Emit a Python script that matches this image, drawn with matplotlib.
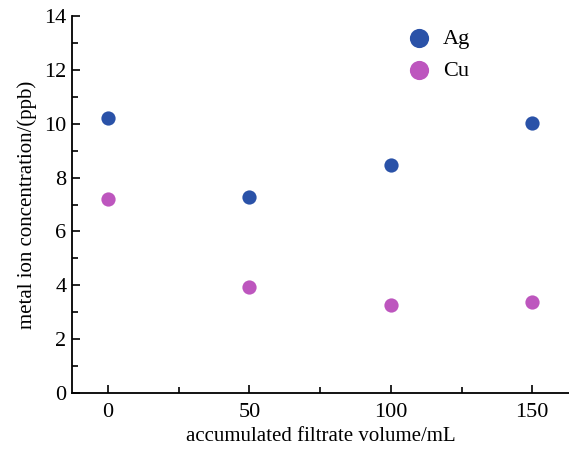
import matplotlib.pyplot as plt
from matplotlib.ticker import MultipleLocator

# accumulated filtrate volume (mL) and measured ion concentrations (ppb)
volume = [0, 50, 100, 150]
ag_conc = [10.21, 7.28, 8.46, 10.04]
cu_conc = [7.20, 3.94, 3.28, 3.38]

plt.rcParams['font.family'] = ['Liberation Serif', 'DejaVu Serif']

fig = plt.figure(figsize=(5.69, 4.51), dpi=100)
ax = fig.add_axes([0.1265, 0.1286, 0.8735, 0.8359])

ax.scatter(volume, ag_conc, s=105, color='#2a52a8', label='Ag', zorder=3, linewidths=0)
ax.scatter(volume, cu_conc, s=105, color='#bd56be', label='Cu', zorder=3, linewidths=0)

ax.set_xlim(-12.7, 163)
ax.set_ylim(0, 14)
ax.xaxis.set_major_locator(MultipleLocator(50))
ax.xaxis.set_minor_locator(MultipleLocator(25))
ax.yaxis.set_major_locator(MultipleLocator(2))
ax.yaxis.set_minor_locator(MultipleLocator(1))

for side in ('top', 'right'):
    ax.spines[side].set_visible(False)
for side in ('left', 'bottom'):
    ax.spines[side].set_linewidth(1.3)

ax.tick_params(which='major', direction='in', length=6, width=1.2, labelsize=16, pad=7)
ax.tick_params(which='minor', direction='in', length=4, width=1.2)
ax.tick_params(axis='y', pad=4)

ax.set_xlabel('accumulated filtrate volume/mL', fontsize=15, labelpad=4)
ax.set_ylabel('metal ion concentration/(ppb)', fontsize=15, labelpad=5)

ax.legend(loc='upper left', bbox_to_anchor=(0.628, 1.0), frameon=False, fontsize=16,
          markerscale=1.35, handletextpad=0.1, labelspacing=0.52, borderaxespad=0.15)

fig.savefig('out.png', dpi=100)
